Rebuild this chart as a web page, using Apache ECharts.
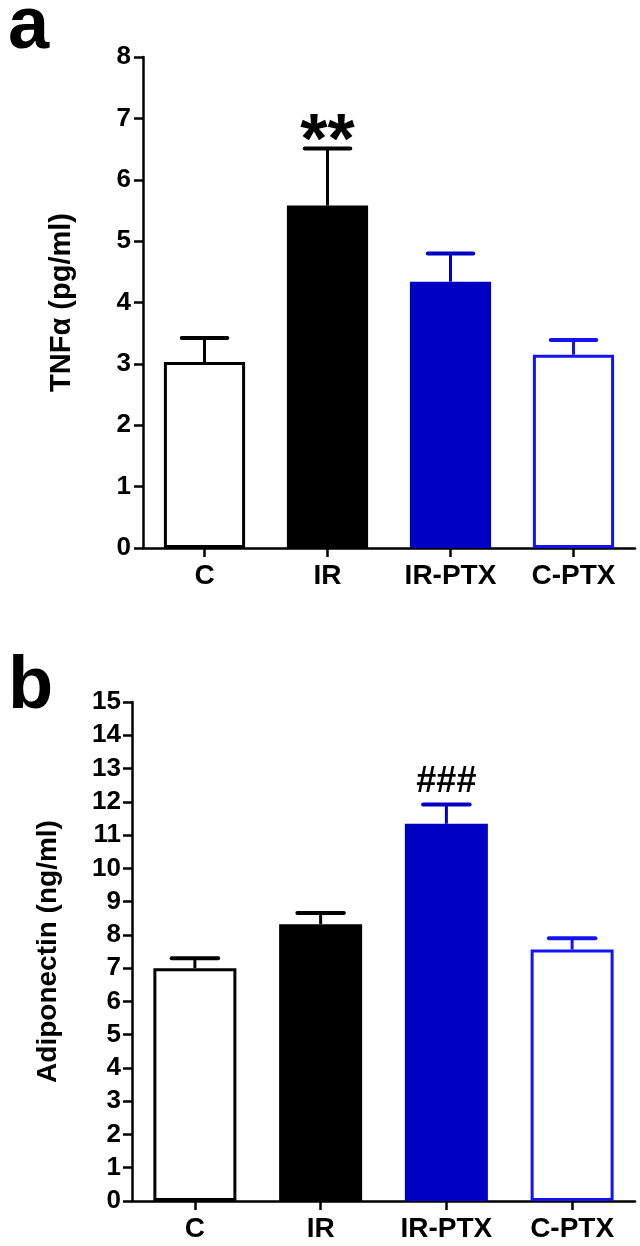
<!DOCTYPE html>
<html>
<head>
<meta charset="utf-8">
<script src="https://cdn.jsdelivr.net/npm/echarts@6/dist/echarts.min.js"></script>
<style>
html,body{margin:0;padding:0;background:#fff;}
#chart{width:640px;height:1246px;}
</style>
</head>
<body>
<div id="chart"></div>
<script>
// ---- data ----
const categories = ['C', 'IR', 'IR-PTX', 'C-PTX'];
const tnfMean = [3.03, 5.58, 4.34, 3.15];
const tnfSem = [0.39, 0.93, 0.46, 0.24];
const tnfMarks = ['', '**', '', ''];
const tnfTicks = [0, 1, 2, 3, 4, 5, 6, 7, 8];
const adipoMean = [7.0, 8.32, 11.34, 7.56];
const adipoSem = [0.30, 0.34, 0.58, 0.34];
const adipoMarks = ['', '', '###', ''];
const adipoTicks = [0, 1, 2, 3, 4, 5, 6, 7, 8, 9, 10, 11, 12, 13, 14, 15];

// ---- styles ----
const FONT = "'Liberation Sans', Arial, Helvetica, sans-serif";
const BLUE_FILL = '#0000c2';
const BLUE_LINE = '#1414f0';
const barStyles = [
  { color: '#ffffff', borderColor: '#000000', borderWidth: 3 },
  { color: '#000000', borderColor: '#000000', borderWidth: 0 },
  { color: BLUE_FILL, borderColor: BLUE_FILL, borderWidth: 0 },
  { color: '#ffffff', borderColor: BLUE_LINE, borderWidth: 3 }
];
const errColors = ['#000000', '#000000', BLUE_FILL, BLUE_LINE];

function barData(means) {
  return means.map((v, i) => ({ value: v, itemStyle: barStyles[i] }));
}

function makeCustom(gridIndex, means, sems, marks, markFont, markOffset) {
  return {
    type: 'custom', xAxisIndex: gridIndex, yAxisIndex: gridIndex, z: 5,
    renderItem: function (params, api) {
      const i = params.dataIndex;
      const x = api.value(0), m = api.value(1), s = api.value(2);
      const color = errColors[i];
      const mark = marks[i];
      const base = api.coord([x, m]);
      const top = api.coord([x, m + s]);
      const bw = api.size([1, 0])[0];
      const half = bw * 0.185;
      const children = [
        { type: 'line', shape: { x1: base[0], y1: base[1], x2: top[0], y2: top[1] }, style: { stroke: color, lineWidth: 3 } },
        { type: 'line', shape: { x1: top[0] - half, y1: top[1], x2: top[0] + half, y2: top[1] }, style: { stroke: color, lineWidth: 4, lineCap: 'round' } }
      ];
      if (mark) {
        children.push({
          type: 'text', x: top[0], y: top[1] - markOffset,
          style: { text: mark, font: markFont, fill: '#000', align: 'center', verticalAlign: 'bottom' }
        });
      }
      return { type: 'group', children: children };
    },
    data: means.map((v, i) => [i, v, sems[i]]),
    encode: { x: 0, y: 1 }
  };
}

const axisLine = { show: true, lineStyle: { color: '#000', width: 2.5 } };
const axisTick = { show: true, length: 9, lineStyle: { color: '#000', width: 2.5 } };

function yAxis(gridIndex, ticks, name, nameGap, nameSize, margin) {
  return {
    type: 'value', gridIndex: gridIndex,
    min: ticks[0], max: ticks[ticks.length - 1], interval: 1,
    axisLine: axisLine, axisTick: axisTick, splitLine: { show: false },
    axisLabel: { color: '#000', fontFamily: FONT, fontWeight: 'bold', fontSize: 26, margin: margin },
    name: name, nameLocation: 'middle', nameGap: nameGap,
    nameTextStyle: { color: '#000', fontFamily: FONT, fontWeight: 'bold', fontSize: nameSize }
  };
}
function xAxis(gridIndex) {
  return {
    type: 'category', gridIndex: gridIndex, data: categories,
    axisLine: axisLine,
    axisTick: { show: true, alignWithLabel: true, length: 9, lineStyle: { color: '#000', width: 2.5 } },
    axisLabel: { color: '#000', fontFamily: FONT, fontWeight: 'bold', fontSize: 28, margin: 14 }
  };
}

const chart = echarts.init(document.getElementById('chart'), null, { renderer: 'canvas' });
chart.setOption({
  backgroundColor: '#ffffff',
  animation: false,
  title: [
    { text: 'a', left: 3, top: -14, textStyle: { fontFamily: FONT, fontWeight: 'bold', fontSize: 74, color: '#000' } },
    { text: 'b', left: 3, top: 646, textStyle: { fontFamily: FONT, fontWeight: 'bold', fontSize: 74, color: '#000' } }
  ],
  grid: [
    { left: 143, right: 5, top: 57, height: 491 },
    { left: 132, right: 5, top: 702, height: 499 }
  ],
  xAxis: [xAxis(0), xAxis(1)],
  yAxis: [
    yAxis(0, tnfTicks, 'TNFα (pg/ml)', 67, 29, 12),
    yAxis(1, adipoTicks, 'Adiponectin (ng/ml)', 70, 28, 11)
  ],
  series: [
    { type: 'bar', xAxisIndex: 0, yAxisIndex: 0, barWidth: '66%', data: barData(tnfMean), z: 2 },
    makeCustom(0, tnfMean, tnfSem, tnfMarks, "bold 70px " + FONT, -30),
    { type: 'bar', xAxisIndex: 1, yAxisIndex: 1, barWidth: '66%', data: barData(adipoMean), z: 2 },
    makeCustom(1, adipoMean, adipoSem, adipoMarks, "bold 36px " + FONT, 4)
  ]
});
</script>
</body>
</html>
